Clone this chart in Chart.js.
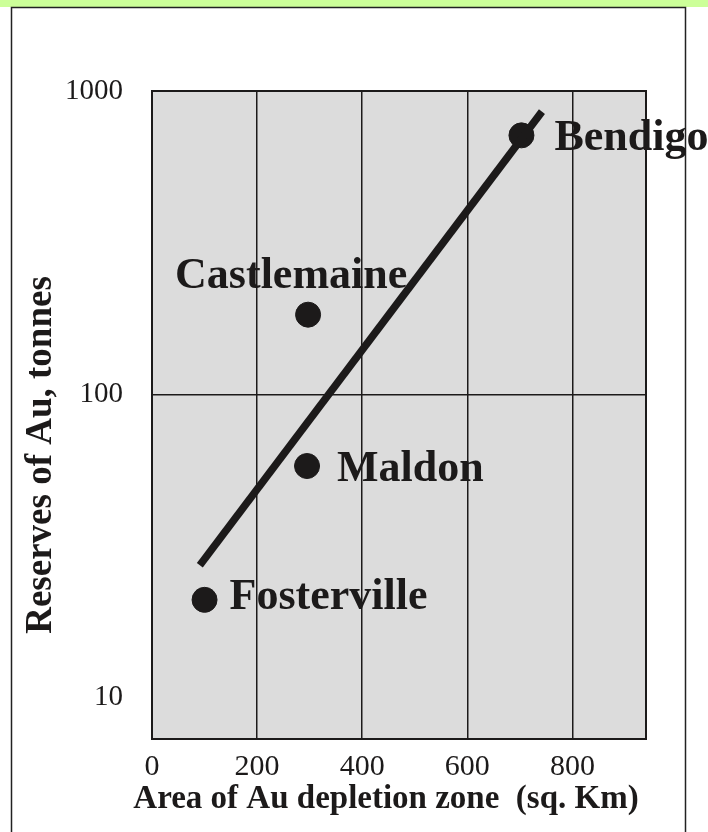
<!DOCTYPE html>
<html>
<head>
<meta charset="utf-8">
<script src="https://cdn.jsdelivr.net/npm/chart.js@4"></script>
<style>
  html, body { margin: 0; padding: 0; background: #fff; overflow: hidden; }
  #wrap { width: 708px; height: 832px; position: relative; }
</style>
</head>
<body>
<div id="wrap"><canvas id="goldChart"></canvas></div>
<script>
// deposits: area of depletion zone (sq. km) vs reserves (tonnes)
const depositNames = ['Fosterville', 'Maldon', 'Castlemaine', 'Bendigo'];
const depositArea = [100, 295, 297, 703];
const depositReserves = [21, 58, 183, 714];

// trend line end points
const trendArea = [91, 742];
const trendReserves = [27.3, 855];

const xTickValues = [0, 200, 400, 600, 800];
const xTickLabels = ['0', '200', '400', '600', '800'];
const yTickValues = [10, 100, 1000];
const yTickLabels = ['10', '100', '1000'];

const xTitle = 'Area of Au depletion zone  (sq. Km)';
const yTitle = 'Reserves of Au, tonnes';

const ink = '#1c1a1a';
const serif = "'Liberation Serif', 'Times New Roman', serif";

// label offsets relative to each point (px)
const labelOffsets = {
  Fosterville: [25, 9],
  Maldon: [30, 15],
  Castlemaine: [-133, -27],
  Bendigo: [33, 15]
};

const framePlugin = {
  id: 'frame',
  beforeDraw(chart) {
    const { ctx, chartArea: a, width, height } = chart;
    ctx.save();
    ctx.fillStyle = '#fff';
    ctx.fillRect(0, 0, width, height);
    ctx.fillStyle = '#ccff99';
    ctx.fillRect(0, 0, width, 7);
    ctx.strokeStyle = '#222';
    ctx.lineWidth = 1.5;
    ctx.beginPath();
    ctx.moveTo(11.5, height + 2);
    ctx.lineTo(11.5, 7.5);
    ctx.lineTo(685.5, 7.5);
    ctx.lineTo(685.5, height + 2);
    ctx.stroke();
    ctx.fillStyle = '#dcdcdc';
    ctx.fillRect(a.left, a.top, a.right - a.left, a.bottom - a.top);
    ctx.restore();
  },
  beforeDatasetsDraw(chart) {
    const { ctx, chartArea: a } = chart;
    ctx.save();
    ctx.strokeStyle = ink;
    ctx.lineWidth = 2;
    ctx.strokeRect(a.left, a.top, a.right - a.left, a.bottom - a.top);
    ctx.restore();
  },
  afterDraw(chart) {
    const { ctx } = chart;
    const x = chart.scales.x, y = chart.scales.y;
    ctx.save();
    ctx.fillStyle = ink;
    ctx.font = 'bold 44px ' + serif;
    ctx.textBaseline = 'alphabetic';
    depositNames.forEach((name, i) => {
      const px = x.getPixelForValue(depositArea[i]);
      const py = y.getPixelForValue(depositReserves[i]);
      const off = labelOffsets[name];
      ctx.fillText(name, px + off[0], py + off[1]);
    });
    // x axis title
    ctx.font = 'bold 33px ' + serif;
    ctx.textAlign = 'center';
    ctx.fillText(xTitle, 386, 808);
    // y axis title
    ctx.translate(41, 455);
    ctx.rotate(-Math.PI / 2);
    ctx.font = 'bold 37px ' + serif;
    ctx.textBaseline = 'middle';
    ctx.fillText(yTitle, 0, 0);
    ctx.restore();
  }
};

new Chart(document.getElementById('goldChart'), {
  type: 'scatter',
  data: {
    datasets: [
      {
        type: 'line',
        data: trendArea.map((v, i) => ({ x: v, y: trendReserves[i] })),
        borderColor: ink,
        borderWidth: 7.5,
        pointRadius: 0,
        borderCapStyle: 'butt',
        fill: false
      },
      {
        data: depositArea.map((v, i) => ({ x: v, y: depositReserves[i] })),
        backgroundColor: ink,
        borderColor: ink,
        pointRadius: 12.5,
        pointHoverRadius: 12.5
      }
    ]
  },
  options: {
    responsive: true,
    maintainAspectRatio: false,
    animation: false,
    layout: { padding: { left: 0, top: 91, right: 62, bottom: 0 } },
    plugins: {
      legend: { display: false },
      tooltip: { enabled: false }
    },
    scales: {
      x: {
        type: 'linear',
        min: 0,
        max: 940,
        afterBuildTicks: axis => { axis.ticks = xTickValues.map(v => ({ value: v })); },
        afterFit: axis => { axis.height = 93; },
        grid: { color: ink, lineWidth: 1.5, drawTicks: false },
        border: { display: false },
        ticks: {
          color: ink,
          padding: 10,
          maxRotation: 0,
          font: { family: serif, size: 30 },
          callback: v => xTickLabels[xTickValues.indexOf(v)]
        }
      },
      y: {
        type: 'logarithmic',
        min: 7.3,
        max: 1000,
        afterBuildTicks: axis => { axis.ticks = yTickValues.map(v => ({ value: v })); },
        afterFit: axis => { axis.width = 152; },
        grid: {
          color: c => (c.tick && c.tick.value === 10 ? 'rgba(0,0,0,0)' : ink),
          lineWidth: 1.5,
          drawTicks: false
        },
        border: { display: false },
        ticks: {
          color: ink,
          padding: 29,
          font: { family: serif, size: 29 },
          callback: v => yTickLabels[yTickValues.indexOf(v)]
        }
      }
    }
  },
  plugins: [framePlugin]
});
</script>
</body>
</html>
